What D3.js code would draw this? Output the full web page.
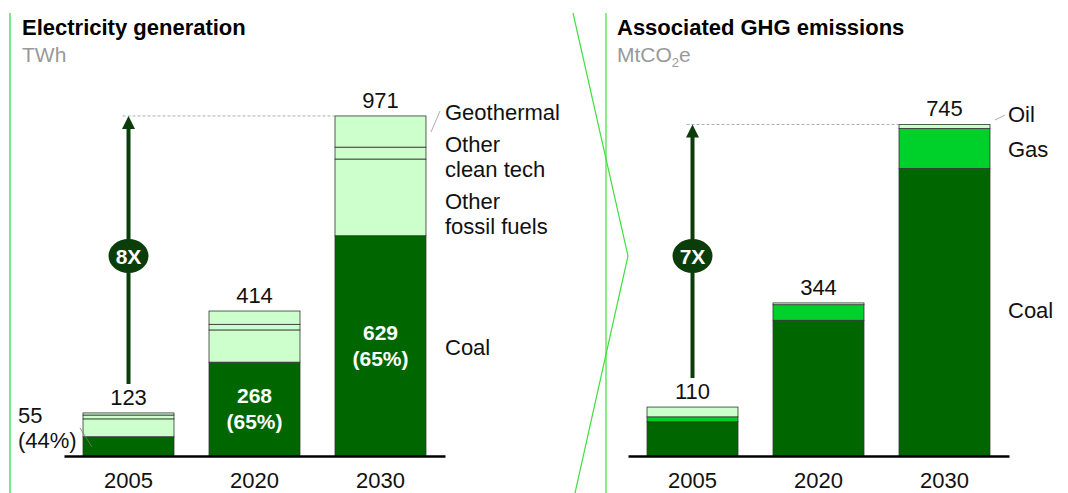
<!DOCTYPE html>
<html lang="en">
<head>
<meta charset="UTF-8">
<title>Electricity generation and GHG emissions</title>
<script src="https://d3js.org/d3.v7.min.js"></script>
<style>
    body { margin: 0; background: #fff; }
    svg { font-family: "Liberation Sans", Arial, sans-serif; display: block; }
    .title { font-size: 22px; font-weight: bold; fill: #000; }
    .unit { font-size: 21px; fill: #999; }
    .lbl { font-size: 22px; fill: #111; }
    .inner { font-size: 21px; font-weight: bold; fill: #fff; }
</style>
</head>
<body>
<svg width="1068" height="493"></svg>
<script>
// data
const years = ["2005", "2020", "2030"];

const elecCoal = [55, 268, 629];
const elecOtherFossil = [51, 92, 219];
const elecOtherClean = [11, 16, 34];
const elecGeothermal = [6, 38, 89];
const elecTotals = [123, 414, 971];
const elecCoalShare = ["44%", "65%", "65%"];

const ghgCoal = [77, 305, 646];
const ghgGas = [11, 35, 90];
const ghgOil = [22, 4, 9];
const ghgTotals = [110, 344, 745];

const svg = d3.select("svg");
const base = 456;
const dark = "#006600", light = "#ccffcc", bright = "#00d12a", arrowCol = "#0b3d0b";

// frame lines
svg.append("line").attr("x1", 10).attr("x2", 10).attr("y1", 13).attr("y2", 493)
    .attr("stroke", "#7fe58c").attr("stroke-width", 2);
svg.append("line").attr("x1", 606).attr("x2", 606).attr("y1", 13).attr("y2", 493)
    .attr("stroke", "#3fe03f").attr("stroke-width", 1.2);
svg.append("polyline").attr("points", "573,13 628,256 575,493")
    .attr("fill", "none").attr("stroke", "#3fe03f").attr("stroke-width", 1.2);

function panel(o) {
    const g = svg.append("g");

    g.append("text").attr("class", "title").attr("x", o.tx).attr("y", 35).text(o.title);
    const u = g.append("text").attr("class", "unit").attr("x", o.tx).attr("y", 62);
    o.unit(u);

    const x = d3.scaleBand().domain(years).range([o.x0, o.x1])
        .paddingInner(0.278).paddingOuter(0.151);
    const y = d3.scaleLinear().domain([0, o.max]).range([base, base - o.max * o.k]);

    const rows = years.map((yr, i) => {
        const r = { year: yr };
        o.keys.forEach((k, j) => r[k] = o.series[j][i]);
        return r;
    });
    const stack = d3.stack().keys(o.keys)(rows);

    g.selectAll("g.layer").data(stack).join("g")
        .attr("class", "layer")
        .attr("fill", d => o.colors[d.key])
        .selectAll("rect").data(d => d).join("rect")
        .attr("x", d => x(d.data.year))
        .attr("y", d => y(d[1]))
        .attr("width", x.bandwidth())
        .attr("height", d => y(d[0]) - y(d[1]))
        .attr("stroke", "#333")
        .attr("stroke-width", 0.8);

    // axis
    const ax = g.append("g").attr("transform", `translate(0,${base})`)
        .call(d3.axisBottom(x).tickSize(0).tickSizeOuter(0));
    ax.select(".domain").attr("stroke", "#000").attr("stroke-width", 2.6);
    ax.selectAll("text").attr("class", "lbl").attr("dy", null).attr("y", 32)
        .attr("font-size", null).attr("font-family", null).attr("fill", null);

    // totals
    g.selectAll("text.tot").data(o.totals).join("text")
        .attr("class", "lbl tot")
        .attr("text-anchor", "middle")
        .attr("x", (d, i) => x(years[i]) + x.bandwidth() / 2)
        .attr("y", d => y(d) - 8)
        .text(d => d);

    // growth arrow
    const ax0 = x(years[0]) + x.bandwidth() / 2;
    const yTop = y(o.totals[2]);
    g.append("line").attr("x1", ax0 - 6).attr("x2", x(years[2])).attr("y1", yTop).attr("y2", yTop)
        .attr("stroke", "#999").attr("stroke-width", 0.8).attr("stroke-dasharray", "3,2");
    g.append("line").attr("x1", ax0).attr("x2", ax0)
        .attr("y1", y(o.totals[0]) - 29).attr("y2", yTop + 12)
        .attr("stroke", arrowCol).attr("stroke-width", 4);
    g.append("path").attr("d", `M${ax0},${yTop}L${ax0 - 6.5},${yTop + 13}L${ax0 + 6.5},${yTop + 13}Z`)
        .attr("fill", arrowCol);
    g.append("ellipse").attr("cx", ax0).attr("cy", 256).attr("rx", 20).attr("ry", 17)
        .attr("fill", arrowCol);
    g.append("text").attr("class", "inner").attr("text-anchor", "middle")
        .attr("x", ax0).attr("y", 263.5).text(o.mult);

    // series labels
    o.legend.forEach(l => {
        const t = g.append("text").attr("class", "lbl").attr("x", o.x1).attr("y", l.y);
        l.lines.forEach((s, i) => t.append("tspan").attr("x", o.lx).attr("dy", i ? 25 : 0).text(s));
    });
    if (o.extra) o.extra(g, x, y);
}

panel({
    title: "Electricity generation",
    unit: t => t.text("TWh"),
    tx: 22, x0: 64, x1: 445, lx: 445,
    max: 971, k: 0.3502,
    keys: ["coal", "otherFossil", "otherClean", "geothermal"],
    series: [elecCoal, elecOtherFossil, elecOtherClean, elecGeothermal],
    colors: { coal: dark, otherFossil: light, otherClean: light, geothermal: light },
    totals: elecTotals,
    mult: "8X",
    legend: [
        { y: 120, lines: ["Geothermal"] },
        { y: 152, lines: ["Other", "clean tech"] },
        { y: 209, lines: ["Other", "fossil fuels"] },
        { y: 355, lines: ["Coal"] }
    ],
    extra: (g, x, y) => {
        g.append("line").attr("x1", 431).attr("y1", 132).attr("x2", 440).attr("y2", 111)
            .attr("stroke", "#999").attr("stroke-width", 0.8);
        // coal share labels
        years.forEach((yr, i) => {
            const cx = x(yr) + x.bandwidth() / 2;
            if (i === 0) {
                const t = g.append("text").attr("class", "lbl").attr("y", 423);
                t.append("tspan").attr("x", 18).text(elecCoal[i]);
                t.append("tspan").attr("x", 18).attr("dy", 25).text(`(${elecCoalShare[i]})`);
                g.append("line").attr("x1", 80).attr("y1", 428).attr("x2", 92).attr("y2", 447)
                    .attr("stroke", "#777").attr("stroke-width", 0.8);
            } else {
                const cy = (y(0) + y(elecCoal[i])) / 2;
                const t = g.append("text").attr("class", "inner").attr("text-anchor", "middle").attr("y", cy - 6);
                t.append("tspan").attr("x", cx).text(elecCoal[i]);
                t.append("tspan").attr("x", cx).attr("dy", 26).text(`(${elecCoalShare[i]})`);
            }
        });
    }
});

panel({
    title: "Associated GHG emissions",
    unit: t => {
        t.append("tspan").text("MtCO");
        t.append("tspan").attr("font-size", 13).attr("dy", 5).text("2");
        t.append("tspan").attr("dy", -5).text("e");
    },
    tx: 617, x0: 628, x1: 1009, lx: 1008,
    max: 745, k: 0.445,
    keys: ["coal", "gas", "oil"],
    series: [ghgCoal, ghgGas, ghgOil],
    colors: { coal: dark, gas: bright, oil: light },
    totals: ghgTotals,
    mult: "7X",
    legend: [
        { y: 122, lines: ["Oil"] },
        { y: 157, lines: ["Gas"] },
        { y: 318, lines: ["Coal"] }
    ],
    extra: g => {
        g.append("line").attr("x1", 995).attr("y1", 120).attr("x2", 1005).attr("y2", 115)
            .attr("stroke", "#999").attr("stroke-width", 0.8);
    }
});
</script>
</body>
</html>
